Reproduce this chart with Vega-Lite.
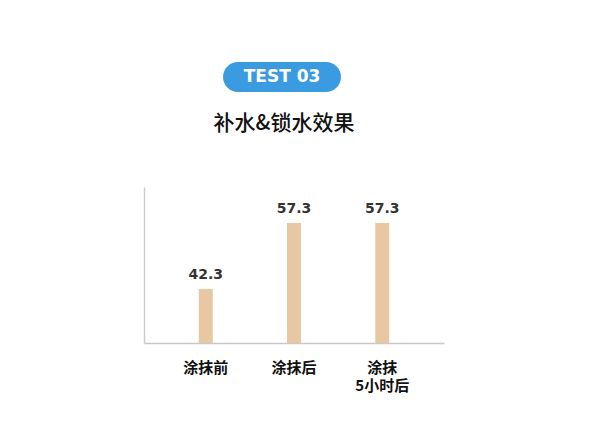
{
  "$schema": "https://vega.github.io/schema/vega-lite/v6.json",
  "background": "white",
  "padding": {"left": 144, "top": 57, "right": 10, "bottom": 5},
  "config": {"view": {"stroke": null}, "concat": {"spacing": 16}},
  "vconcat": [
    {
      "width": 276,
      "height": 40,
      "data": {"values": [{"badge": "TEST 03"}]},
      "layer": [
        {
          "mark": {
            "type": "point",
            "filled": true,
            "opacity": 1,
            "color": "#3a9be0",
            "size": 13924,
            "shape": "M -0.746 -0.254 L 0.746 -0.254 A 0.254 0.254 0 0 1 0.746 0.254 L -0.746 0.254 A 0.254 0.254 0 0 1 -0.746 -0.254 Z"
          },
          "encoding": {}
        },
        {
          "mark": {
            "type": "text",
            "font": "DejaVu Sans",
            "fontWeight": "bold",
            "fontSize": 17,
            "color": "white",
            "baseline": "middle"
          },
          "encoding": {"text": {"field": "badge"}}
        }
      ]
    },
    {
      "width": 300,
      "height": 156,
      "title": {
        "text": "补水&锁水效果",
        "font": "Noto Sans CJK SC",
        "fontSize": 21,
        "fontWeight": 500,
        "color": "#111111",
        "anchor": "middle",
        "dx": -10,
        "offset": 53
      },
      "data": {
        "values": [
          {"stage": "涂抹前", "value": 42.3},
          {"stage": "涂抹后", "value": 57.3},
          {"stage": "涂抹 5小时后", "value": 57.3}
        ]
      },
      "encoding": {
        "x": {
          "field": "stage",
          "type": "nominal",
          "sort": null,
          "scale": {"paddingInner": 0.5, "paddingOuter": 0.45},
          "axis": {
            "title": null,
            "labelAngle": 0,
            "ticks": false,
            "domainColor": "#c8c8c8",
            "domainWidth": 1.5,
            "labelFont": "Noto Sans CJK SC",
            "labelFontWeight": "bold",
            "labelFontSize": 15,
            "labelColor": "#111111",
            "labelBaseline": "middle",
            "labelPadding": 24,
            "labelLineHeight": 18,
            "labelExpr": "split(datum.label, ' ')",
            "encode": {
              "labels": {
                "update": {"dx": {"signal": "datum.value === '涂抹 5小时后' ? 10 : 0"}}
              }
            }
          }
        }
      },
      "layer": [
        {
          "mark": {"type": "bar", "size": 14, "color": "#e7c8a2"},
          "encoding": {
            "y": {
              "field": "value",
              "type": "quantitative",
              "scale": {"domain": [30, 65.5], "zero": false, "nice": false},
              "axis": {
                "title": null,
                "labels": false,
                "ticks": false,
                "grid": false,
                "domainColor": "#cccccc",
                "domainWidth": 1.5
              }
            },
            "y2": {"datum": 30}
          }
        },
        {
          "mark": {
            "type": "text",
            "font": "DejaVu Sans",
            "fontWeight": "bold",
            "fontSize": 14,
            "color": "#333333",
            "baseline": "bottom",
            "dy": -7
          },
          "encoding": {
            "y": {"field": "value", "type": "quantitative"},
            "text": {"field": "value", "type": "quantitative", "format": ".1f"}
          }
        }
      ]
    }
  ]
}
